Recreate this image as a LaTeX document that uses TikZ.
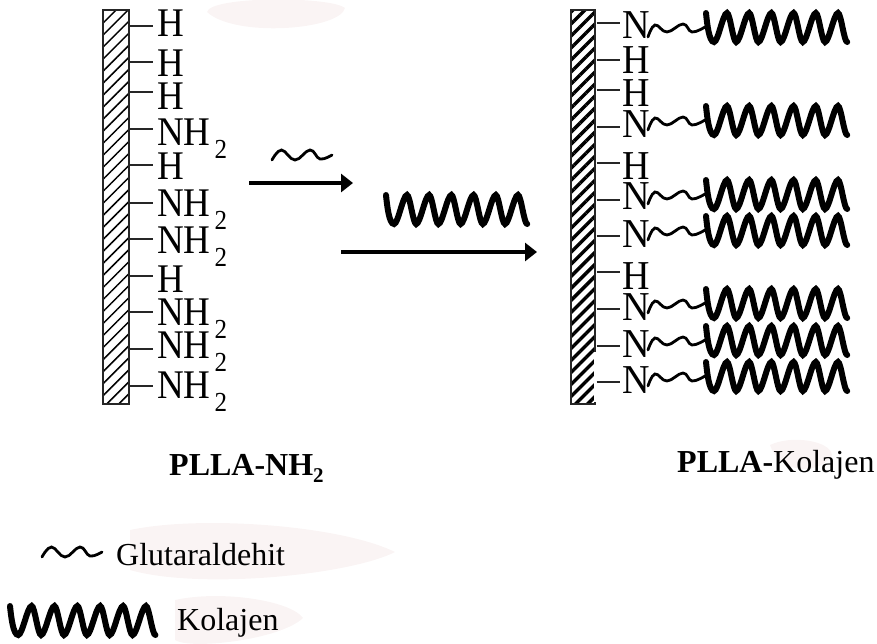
\documentclass[tikz,border=0pt]{standalone}
\usepackage{fontspec}
\setmainfont{Liberation Serif}
\usetikzlibrary{arrows.meta,patterns.meta}
\definecolor{smear}{HTML}{FAF4F4}
\newcommand{\subtwo}{\kern4pt\raisebox{-12pt}{\fontsize{25}{25}\selectfont 2}}
\newcommand{\subbold}{\raisebox{-7pt}{\fontsize{21}{21}\selectfont 2}}
\newcommand{\tallL}[1]{\scalebox{1}[1.1]{#1}}
\newcommand{\tallR}[1]{\scalebox{1}[1.08]{#1}}
\tikzset{
  atomL/.style={inner sep=0pt,anchor=base west,font=\fontsize{37}{37}\selectfont},
  atomR/.style={inner sep=0pt,anchor=base west,font=\fontsize{38}{38}\selectfont},
  stem/.style={line width=1.4pt,black!85},
  flow/.style={line width=3.4pt,-{Triangle[length=12pt,width=18pt]}},
  lbl/.style={inner sep=0pt,anchor=base west,font=\fontsize{32}{32}\selectfont},
  barL/.style={draw=black!85,line width=1.6pt,inner sep=0pt,minimum width=26pt,minimum height=394pt,
    pattern={Lines[angle=45,distance=8.5pt,line width=1.5pt]},pattern color=black},
  barR/.style={draw=black!85,line width=1.6pt,inner sep=0pt,minimum width=24pt,minimum height=394pt,
    pattern={Lines[angle=45,distance=8.5pt,line width=3.4pt]},pattern color=black},
  wavy/.pic={\draw[line width=2.8pt,line cap=round] plot[smooth,tension=.7] coordinates
    {(0,0) (9.5,-10) (23,0) (38,-10) (48,-1) (60,-5)};},
  linker/.pic={\draw[line width=2.8pt,line cap=round] plot[smooth,tension=.7] coordinates
    {(0,0) (7,-12) (19,-5) (35,-13) (44,-5) (57,-10)};},
  coil/.pic={\draw[line width=6pt,line cap=round]
    (0,0) .. controls (1,10) and (3,29) .. (8,29)
    \foreach \p in {0,1,2,3,4,5}{
      .. controls ({8+\p*22.2+4},29) and ({8+\p*22.2+9},0) .. ({8+\p*22.2+13},0)
      .. controls ({8+\p*22.2+16},0) and ({8+\p*22.2+19},29) .. ({8+\p*22.2+22.2},29)}
    ;
    }
}
\begin{document}
\begin{tikzpicture}[x=1pt,y=-1pt]
\useasboundingbox (0,0) rectangle (877,643);
% faint smears
\fill[smear] (207,12) .. controls (210,-4) and (330,-4) .. (345,8) .. controls (340,30) and (235,38) .. (207,12);
\fill[smear] (130,530) .. controls (200,515) and (340,525) .. (395,552) .. controls (350,575) and (200,590) .. (130,570) -- cycle;
\fill[smear] (175,600) .. controls (220,590) and (290,600) .. (303,618) .. controls (280,640) and (190,650) .. (175,640) -- cycle;
\fill[smear] (770,445) .. controls (790,435) and (830,440) .. (832,455) .. controls (820,475) and (780,475) .. (770,445);
% left bar
\node[barL] (bl) at (116,207) {};
\foreach \n/\s/\b/\t in {1/26/36/H,2/62/76/H,3/92/109/H,4/129/145/NH\subtwo,5/165/179/H,
  6/203/216/NH\subtwo,7/239/253/NH\subtwo,8/276/292/H,9/312/325/NH\subtwo,10/349/358/NH\subtwo,11/386/398/NH\subtwo}{
  \node[atomL] (l\n) at (157,\b) {\tallL{\t}};
  \coordinate (ls\n) at (153,\s);
  \draw[stem] (bl.east |- ls\n) -- (ls\n);
}
% right bar
\node[barR] (br) at (583,207) {};
\draw[white,line width=2.4pt] (595.2,352) -- (595.2,401.5);
\foreach \n/\s/\b/\t in {1/23/38/N,2/60/73/H,3/90/106/H,4/127/137/N,5/163/179/H,
  6/200/209/N,7/236/247/N,8/272/289/H,9/309/320/N,10/346/357/N,11/382/393/N}{
  \node[atomR] (r\n) at (622,\b) {\tallR{\t}};
  \coordinate (rs\n) at (620,\s);
  \draw[stem] (br.east |- rs\n) -- (rs\n);
}
\foreach \n/\c/\w in {1/13/37,4/106/130,6/180/204,7/216/240,9/289/313,10/326/350,11/362/386}{
  \coordinate (w\n) at (648,\w);
  \pic at (w\n) {linker};
  \pic at (706,\c) {coil};
}
% arrows
\coordinate (a1s) at (249,183); \coordinate (a1e) at (353,183);
\coordinate (a2s) at (341,252); \coordinate (a2e) at (537,252);
\draw[flow] (a1s) -- (a1e);
\draw[flow] (a2s) -- (a2e);
\pic at (272,160) {wavy};
\pic at (386,195) {coil};
% labels
\node[lbl,font=\fontsize{32}{32}\selectfont\bfseries] (t1) at (169,475) {PLLA-NH\subbold};
\node[lbl] (t2) at (677,472) {\textbf{PLLA-}Kolajen};
\pic at (42,557) {wavy};
\node[lbl] (t3) at (116,565) {Glutaraldehit};
\pic[xscale=1.03] at (10,606) {coil};
\node[lbl] (t4) at (177,630) {Kolajen};
\end{tikzpicture}
\end{document}
